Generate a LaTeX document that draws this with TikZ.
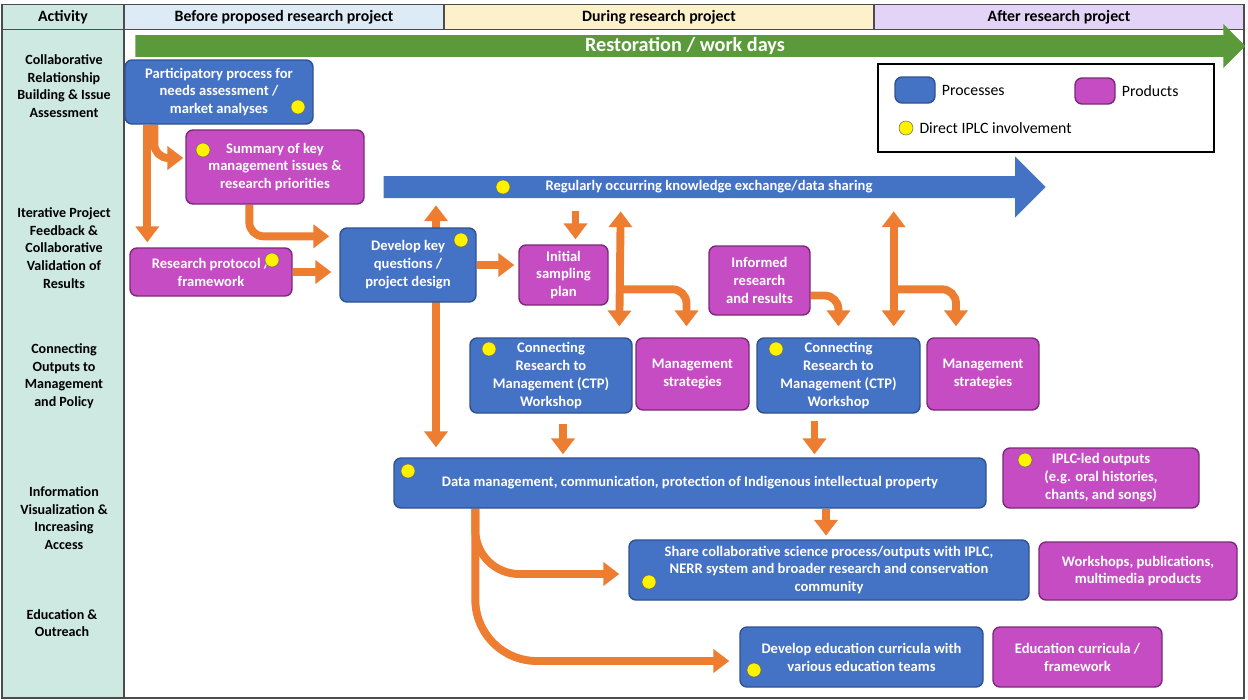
\documentclass[tikz,border=0pt]{standalone}
\usepackage{fontspec}
\setmainfont{Carlito}
\usetikzlibrary{arrows.meta,calc,shapes.arrows,backgrounds}
\definecolor{procblue}{HTML}{4472C4}
\definecolor{procline}{HTML}{2F528F}
\definecolor{prodpink}{HTML}{C64CC4}
\definecolor{prodline}{HTML}{7A2A78}
\definecolor{flow}{HTML}{ED7D31}
\definecolor{workgreen}{HTML}{5B9A3A}
\definecolor{actcol}{HTML}{CDE9E2}
\definecolor{beforecol}{HTML}{DDEBF7}
\definecolor{duringcol}{HTML}{FDF1CC}
\definecolor{aftercol}{HTML}{E2D3F7}
\tikzset{
  box/.style={rounded corners=4pt, line width=0.8pt, text=white, align=center,
    font=\fontsize{8.3}{10.2}\selectfont\bfseries, inner sep=1pt},
  proc/.style={box, fill=procblue, draw=procline},
  prod/.style={box, fill=prodpink, draw=prodline},
  iplc/.style={circle, fill=yellow, draw=black!60, line width=0.3pt, minimum size=8pt, inner sep=0pt},
  oarr/.style={draw=flow, line width=4.5pt, -{Triangle[length=9pt,width=13pt]}},
  obarr/.style={draw=flow, line width=4.5pt, {Triangle[length=9pt,width=13pt]}-{Triangle[length=9pt,width=13pt]}},
  act/.style={align=center, font=\fontsize{8}{10}\selectfont\bfseries},
  head/.style={draw=black!70, line width=0.6pt, font=\fontsize{9}{11}\selectfont\bfseries}
}
% box from corner (#3,#4) to corner (#5,#6)
\newcommand{\pbox}[7]{\node[#2, minimum width={(#5-#3)*0.02cm}, minimum height={(#6-#4)*0.02cm}]
  (#1) at ({(#3+#5)/2},{(#4+#6)/2}) {#7};}
\begin{document}
\begin{tikzpicture}[x=0.02cm, y=-0.02cm]
\useasboundingbox (0,0) rectangle (1248,700);
% Frame and header
\fill[actcol] (2,26) rectangle (124,698);
\draw[black!70, line width=0.6pt] (2,8) rectangle (1244,698);
\draw[black!70, line width=0.6pt] (124,8) -- (124,698);
\pbox{hact}{head, fill=actcol}{2}{8}{124}{26}{Activity}
\pbox{hbefore}{head, fill=beforecol}{124}{8}{444}{26}{Before proposed research project}
\pbox{hduring}{head, fill=duringcol}{444}{8}{874}{26}{During research project}
\pbox{hafter}{head, fill=aftercol}{874}{8}{1244}{26}{After research project}

% Activity rows
\node[act] (a1) at (64,86) {Collaborative\\Relationship\\Building \& Issue\\Assessment};
\node[act] (a2) at (64,248) {Iterative Project\\Feedback \&\\Collaborative\\Validation of\\Results};
\node[act] (a3) at (64,376) {Connecting\\Outputs to\\Management\\and Policy};
\node[act] (a4) at (64,518) {Information\\Visualization \&\\Increasing\\Access};
\node[act] (a5) at (62,623) {Education \&\\Outreach};

% Restoration arrow
\node[single arrow, fill=workgreen, text=white, font=\fontsize{11.5}{13}\selectfont\bfseries,
  minimum height={1110*0.02cm}, minimum width={44*0.02cm}, single arrow head extend={11*0.02cm},
  inner sep=1pt] (work) at (685,46) {Restoration / work days};

% Legend
\draw[black, line width=0.8pt] (878,64) rectangle (1214,152);
\pbox{lproc}{proc}{895}{77}{935}{103}{}
\pbox{lprod}{prod}{1075}{78}{1115}{104}{}
\node[iplc] (ldot) at (906,128) {};
\node[right, font=\fontsize{9}{11}\selectfont] at (lproc.east) {Processes};
\node[right, font=\fontsize{9}{11}\selectfont] at (lprod.east) {Products};
\node[right, font=\fontsize{9}{11}\selectfont] at (ldot.east) {Direct IPLC involvement};

% Processes and products
\pbox{needs}{proc}{125}{60}{313}{124}{Participatory process for\\needs assessment /\\market analyses}
\pbox{issues}{prod}{186}{130}{364}{204}{Summary of key\\management issues \&\\research priorities}
\node[single arrow, fill=procblue, text=white, font=\fontsize{8.3}{10}\selectfont\bfseries,
  minimum height={662*0.02cm}, minimum width={61*0.02cm}, single arrow head extend={15*0.02cm},
  inner sep=1pt] (share) at (709,187) {Regularly occurring knowledge exchange/data sharing};
\pbox{protocol}{prod}{130}{248}{292}{296}{Research protocol /\\framework}
\pbox{design}{proc}{340}{228}{476}{302}{Develop key\\questions /\\project design}
\pbox{sampling}{prod}{519}{245}{608}{305}{Initial\\sampling\\plan}
\pbox{informed}{prod}{709}{246}{810}{315}{Informed\\research\\and results}
\pbox{ctpa}{proc}{470}{338}{632}{413}{Connecting\\Research to\\Management (CTP)\\Workshop}
\pbox{mgmta}{prod}{636}{338}{749}{410}{Management\\strategies}
\pbox{ctpb}{proc}{757}{338}{920}{413}{Connecting\\Research to\\Management (CTP)\\Workshop}
\pbox{mgmtb}{prod}{927}{338}{1039}{410}{Management\\strategies}
\pbox{datamgmt}{proc}{394}{458}{986}{508}{Data management, communication, protection of Indigenous intellectual property}
\pbox{iplcout}{prod}{1003}{448}{1199}{508}{IPLC-led outputs\\(e.g. oral histories,\\chants, and songs)}
\pbox{outreach}{proc}{629}{540}{1029}{600}{Share collaborative science process/outputs with IPLC,\\NERR system and broader research and conservation\\community}
\pbox{pubs}{prod}{1039}{542}{1237}{600}{Workshops, publications,\\multimedia products}
\pbox{curric}{proc}{740}{627}{983}{687}{Develop education curricula with\\various education teams}
\pbox{curricprod}{prod}{993}{627}{1162}{687}{Education curricula /\\framework}

% IPLC dots
\node[iplc] at (298,107) {};
\node[iplc] at (203,150) {};
\node[iplc] at (503,187) {};
\node[iplc] at (272,260) {};
\node[iplc] at (461,240) {};
\node[iplc] at (489,349) {};
\node[iplc] at (776,349) {};
\node[iplc] at (408,471) {};
\node[iplc] at (1025,460) {};
\node[iplc] at (649,582) {};
\node[iplc] at (754,670) {};

% Flow arrows
\begin{pgfonlayer}{background}
\draw[oarr] ($(needs.south west)+(23,0)$) -- ($(protocol.north west)+(18,-5)$);
\draw[oarr, rounded corners=8pt] ($(needs.south west)+(30,0)$) |- ($(issues.west)+(-2,-9)$);
\draw[oarr, rounded corners=8pt] ($(issues.south west)+(64,0)$) |- ($(design.north west)+(-10,9)$);
\draw[oarr] (protocol.east) -- ($(protocol.east -| design.west)+(-8,0)$);
\draw[oarr] (design.east) -- ($(design.east -| sampling.west)+(-4,0)$);
\draw[obarr] ($(design.north)+(28,-22)$) -- ($(design.north |- datamgmt.north)+(28,-10)$);
\draw[oarr] ($(sampling.north)+(12,-33)$) -- ($(sampling.north)+(12,-5)$);
\draw[obarr] ($(sampling.north east)+(12,-33)$) -- ($(mgmta.north west)+(-16,-11)$);
\draw[oarr, rounded corners=8pt] ($(sampling.north east)+(12,45)$) -| ($(mgmta.north)+(-6,-11)$);
\draw[oarr, rounded corners=8pt] ($(informed.east)+(0,15)$) -| ($(ctpb.north)+(0,-11)$);
\draw[obarr] ($(ctpb.north east)+(-27,-126)$) -- ($(ctpb.north east)+(-27,-11)$);
\draw[oarr, rounded corners=8pt] ($(ctpb.north east)+(-27,-48)$) -| ($(mgmtb.north)+(-27,-11)$);
\draw[oarr] ($(ctpa.south)+(12,10)$) -- ($(ctpa.south |- datamgmt.north)+(12,-3)$);
\draw[oarr] ($(ctpb.south)+(-24,7)$) -- ($(ctpb.south |- datamgmt.north)+(-24,-3)$);
\draw[oarr] ($(datamgmt.south)+(136,0)$) -- ($(datamgmt.south)+(136,27)$);
\draw[oarr, rounded corners=25pt] ($(datamgmt.south west)+(82,0)$) |- ($(outreach.west)+(-9,4)$);
\draw[oarr, rounded corners=35pt] ($(datamgmt.south west)+(82,0)$) |- ($(curric.west)+(-10,4)$);
\end{pgfonlayer}
\end{tikzpicture}
\end{document}
